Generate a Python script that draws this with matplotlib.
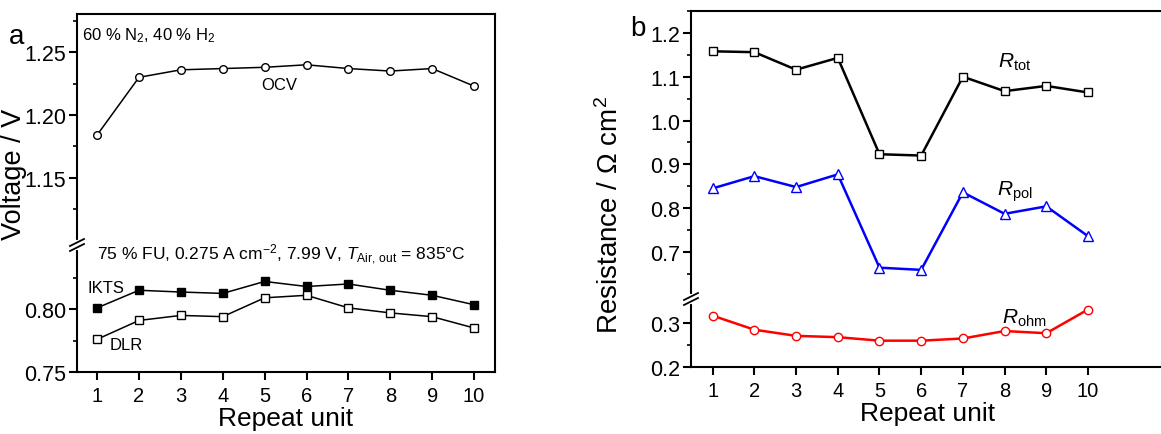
import numpy as np
import matplotlib
matplotlib.use('Agg')
import matplotlib.pyplot as plt
from matplotlib.lines import Line2D
from matplotlib.ticker import FixedLocator, FormatStrFormatter

plt.rcParams['font.family'] = ['Liberation Sans', 'DejaVu Sans']
plt.rcParams['mathtext.fontset'] = 'custom'
plt.rcParams['mathtext.rm'] = 'Liberation Sans'
plt.rcParams['mathtext.it'] = 'Liberation Sans:italic'

# data
units = np.arange(1, 11)
ocv = [1.184, 1.230, 1.236, 1.237, 1.238, 1.240, 1.237, 1.235, 1.237, 1.223]
ikts = [0.801, 0.815, 0.8136, 0.8125, 0.822, 0.818, 0.820, 0.815, 0.811, 0.8035]
dlr = [0.776, 0.791, 0.795, 0.794, 0.809, 0.811, 0.801, 0.797, 0.794, 0.785]
r_tot = [1.158, 1.156, 1.116, 1.143, 0.923, 0.920, 1.100, 1.067, 1.079, 1.064]
r_pol = [0.845, 0.873, 0.848, 0.877, 0.664, 0.659, 0.836, 0.787, 0.804, 0.736]
r_ohm = [0.317, 0.285, 0.271, 0.268, 0.260, 0.260, 0.265, 0.282, 0.277, 0.331]

W, H = 1161, 435
fig = plt.figure(figsize=(W / 100, H / 100), dpi=100)


def add_ax(l, r, t, b):
    return fig.add_axes([l / W, 1 - b / H, (r - l) / W, (b - t) / H])


def style(ax, top_part):
    for s in ax.spines.values():
        s.set_linewidth(1.5)
    ax.tick_params(axis='y', which='major', direction='out', length=6, width=1.5, labelsize=15.5, pad=2)
    ax.tick_params(axis='y', which='minor', direction='out', length=3, width=1.2)
    ax.tick_params(axis='x', which='major', direction='out', length=6, width=1.5, labelsize=14.5, pad=4)
    if top_part:
        ax.spines['bottom'].set_visible(False)
        ax.tick_params(axis='x', which='both', bottom=False, labelbottom=False)
    else:
        ax.spines['top'].set_visible(False)
    ax.set_xticks(units)


def brk(xp, yp):
    # "//" break marks on the left spine
    f = fig.transFigure
    x, y = xp / W, 1 - yp / H
    dx, dy = 7 / W, 3.5 / H
    fig.add_artist(Line2D([x, x], [y - 3 / H, y + 3 / H], color='white', lw=3, transform=f))
    for off in (-2.5 / H, 2.5 / H):
        fig.add_artist(Line2D([x - dx, x + dx], [y + off - dy, y + off + dy], color='black', lw=1.3, transform=f))


# ---- panel a
axa_t = add_ax(77, 495, 15, 246)
axa_b = add_ax(77, 495, 246, 373)
for ax, top in ((axa_t, True), (axa_b, False)):
    style(ax, top)
    ax.set_xlim(0.52, 10.5)
    ax.yaxis.set_major_formatter(FormatStrFormatter('%.2f'))
axa_t.set_ylim(1.0963, 1.2805)
axa_t.yaxis.set_major_locator(FixedLocator([1.15, 1.20, 1.25]))
axa_t.yaxis.set_minor_locator(FixedLocator([1.125, 1.175, 1.225, 1.275]))
axa_b.set_ylim(0.75, 0.851)
axa_b.yaxis.set_major_locator(FixedLocator([0.75, 0.80]))
axa_b.yaxis.set_minor_locator(FixedLocator([0.775, 0.825]))

mk = dict(color='black', lw=1.1, markersize=5.5, markeredgewidth=1.0, markeredgecolor='black')
axa_t.plot(units, ocv, marker='o', markerfacecolor='white', **mk)
axa_b.plot(units, ikts, marker='s', markerfacecolor='black', **mk)
axa_b.plot(units, dlr, marker='s', markerfacecolor='white', **mk)

axa_t.text(0.012, 0.952, '60 % N$_2$, 40 % H$_2$', transform=axa_t.transAxes, fontsize=12, va='top', ha='left')
axa_t.text(5.34, 1.224, 'OCV', fontsize=12, ha='center', va='center')
axa_b.text(5.41, 0.844, '75 % FU, 0.275 A cm$^{-2}$, 7.99 V, $T_{\\rm Air,\\,out}$ = 835°C',
           fontsize=12.5, ha='center', va='center', zorder=5)
axa_b.text(1.21, 0.817, 'IKTS', fontsize=12, ha='center', va='center')
axa_b.text(1.69, 0.7715, 'DLR', fontsize=12, ha='center', va='center')
axa_b.set_xlabel('Repeat unit', fontsize=19, labelpad=1)
fig.text(14 / W, 1 - 174 / H, 'Voltage / V', rotation=90, fontsize=19.5, ha='center', va='center')
fig.text(17 / W, 1 - 37 / H, 'a', fontsize=20, ha='center', va='center')
brk(77, 246)

# ---- panel b (right edge cut off by the figure border)
xr_b = 0.48 + (1165 - 691) / 41.7
axb_t = add_ax(691, 1165, 12, 300)
axb_b = add_ax(691, 1165, 300, 368)
for ax, top in ((axb_t, True), (axb_b, False)):
    style(ax, top)
    ax.set_xlim(0.48, xr_b)
    ax.spines['right'].set_visible(False)
    ax.yaxis.set_major_formatter(FormatStrFormatter('%.1f'))
axb_t.set_ylim(0.5925, 1.25)
axb_t.yaxis.set_major_locator(FixedLocator([0.7, 0.8, 0.9, 1.0, 1.1, 1.2]))
axb_t.yaxis.set_minor_locator(FixedLocator([0.65, 0.75, 0.85, 0.95, 1.05, 1.15, 1.25]))
axb_b.set_ylim(0.2, 0.355)
axb_b.yaxis.set_major_locator(FixedLocator([0.2, 0.3]))
axb_b.yaxis.set_minor_locator(FixedLocator([0.25]))

mb = dict(lw=1.8, markersize=6, markeredgewidth=1.0, markerfacecolor='white')
axb_t.plot(units, r_tot, marker='s', color='black', **mb)
axb_t.plot(units, r_pol, marker='^', color='#0000ff', markersize=7.5, lw=1.8, markeredgewidth=1.0,
           markerfacecolor='white')
axb_b.plot(units, r_ohm, marker='o', color='#ff0000', **mb)

axb_t.text(8.25, 1.135, '$R_{\\rm tot}$', fontsize=15, ha='center', va='center')
axb_t.text(8.25, 0.839, '$R_{\\rm pol}$', fontsize=15, ha='center', va='center')
axb_b.text(8.47, 0.314, '$R_{\\rm ohm}$', fontsize=15, ha='center', va='center')
axb_b.set_xlabel('Repeat unit', fontsize=19, labelpad=1)
fig.text(610 / W, 1 - 215 / H, 'Resistance / Ω cm$^2$', rotation=90, fontsize=20, ha='center', va='center')
fig.text(638 / W, 1 - 29 / H, 'b', fontsize=20, ha='center', va='center')
brk(691, 300)

fig.savefig('out.png', dpi=100, facecolor='white')
